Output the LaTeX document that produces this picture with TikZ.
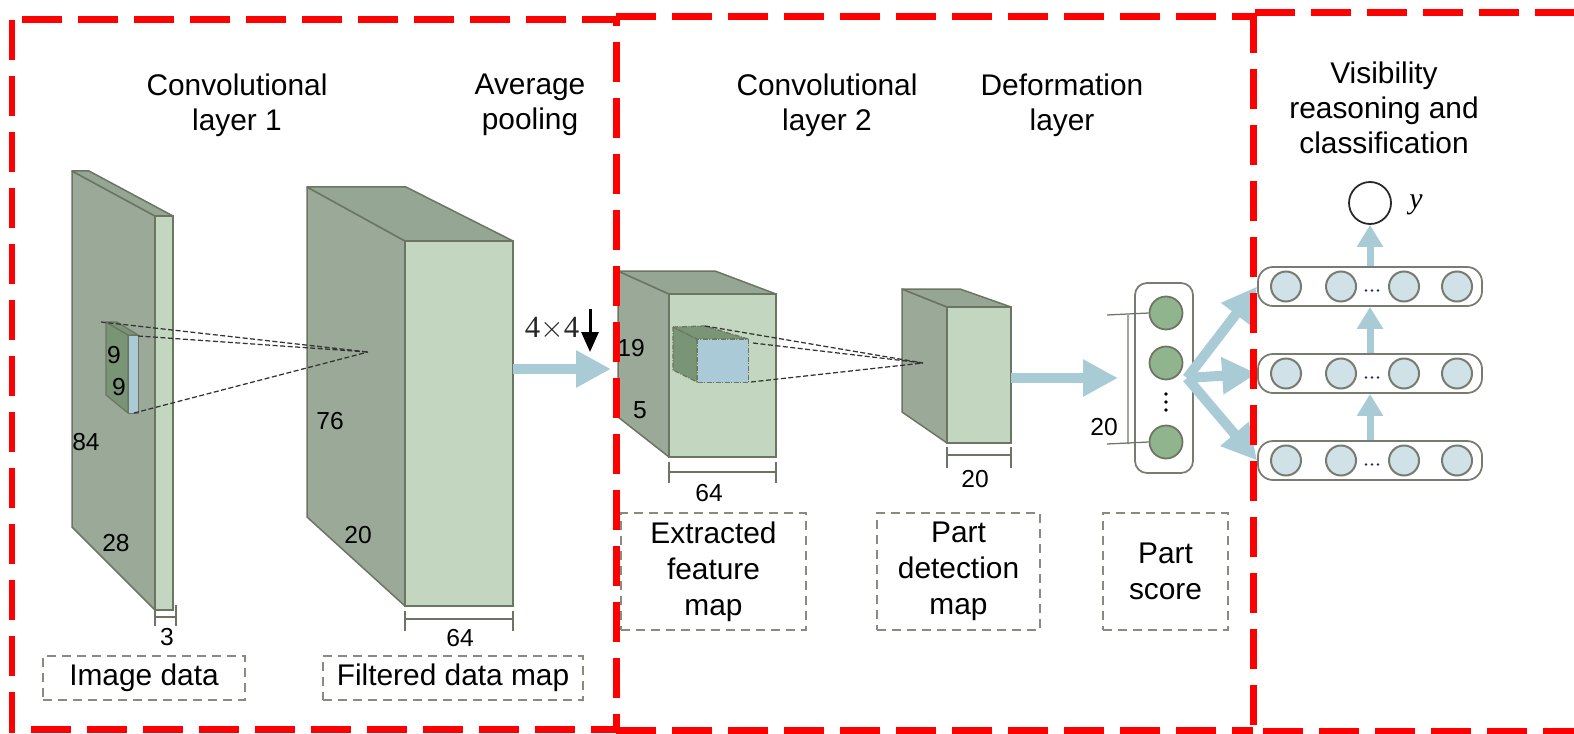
\documentclass[tikz,border=0pt]{standalone}
\usepackage{fontspec}
\setmainfont{Liberation Sans}
\newfontfamily\serifnum{Liberation Serif}
\usetikzlibrary{arrows.meta}

\newcommand\pxu{0.02cm}

\definecolor{sidecol}{RGB}{155,170,152}
\definecolor{topcol}{RGB}{150,166,148}
\definecolor{frontcol}{RGB}{195,215,192}
\definecolor{edgecol}{RGB}{108,116,98}
\definecolor{kernelside}{RGB}{122,148,118}
\definecolor{kernelfront}{RGB}{169,202,214}
\definecolor{flowcol}{RGB}{168,203,214}
\definecolor{scorefill}{RGB}{144,180,142}
\definecolor{unitfill}{RGB}{208,226,232}
\definecolor{unitedge}{RGB}{120,124,112}
\definecolor{framered}{RGB}{255,0,0}
\definecolor{tagcol}{RGB}{138,138,128}
\definecolor{dimcol}{RGB}{110,116,100}
\definecolor{dotblue}{RGB}{40,40,110}

\tikzset{
  sidef/.style={fill=sidecol, draw=edgecol, line width=0.03cm, line join=round},
  topf/.style={fill=topcol, draw=edgecol, line width=0.03cm, line join=round},
  frontf/.style={rectangle, fill=frontcol, draw=edgecol, line width=0.03cm,
    inner sep=0pt, outer sep=0pt, anchor=north west},
  kside/.style={fill=kernelside, draw=edgecol, line width=0.025cm, line join=round},
  kfront/.style={fill=kernelfront, draw=edgecol, line width=0.025cm},
  rfline/.style={draw=black!80, line width=0.025cm, dash pattern=on 0.1cm off 0.05cm},
  dimline/.style={draw=dimcol, line width=0.03cm},
  dimtxt/.style={font=\fontsize{14pt}{16pt}\selectfont, inner sep=0pt},
  title/.style={font=\fontsize{17pt}{20pt}\selectfont, align=center, inner sep=0pt},
  tagbox/.style={rectangle, draw=tagcol, dash pattern=on 0.18cm off 0.12cm,
    line width=0.05cm, font=\fontsize{17pt}{20.5pt}\selectfont, align=center,
    inner sep=0pt},
  frame/.style={draw=framered, line width=0.14cm, dash pattern=on 0.8cm off 0.32cm},
  flow/.style={draw=flowcol, line width=0.2cm, -{Triangle[length=0.7cm,width=0.7cm]}},
  upflow/.style={draw=flowcol, line width=0.14cm, -{Triangle[length=0.44cm,width=0.5cm]}},
  unit/.style={circle, fill=unitfill, draw=unitedge, line width=0.04cm,
    minimum size=30*\pxu, inner sep=0pt},
  scoreunit/.style={circle, fill=scorefill, draw=edgecol, line width=0.035cm,
    minimum size=33*\pxu, inner sep=0pt},
  rowbox/.style={rectangle, rounded corners=0.3cm, draw=unitedge, line width=0.035cm,
    minimum width=224*\pxu, minimum height=39*\pxu, inner sep=0pt},
}

\begin{document}
\begin{tikzpicture}[x=0.02cm, y=-0.02cm]
\useasboundingbox (0,0) rectangle (1574,733);
\clip (0,0) rectangle (1574,733);

% ---------- titles ----------
\node[title] (t1) at (237,105) {Convolutional\\layer 1};
\node[title] (t2) at (530,105) {Average\\pooling};
\node[title] (t3) at (827,105) {Convolutional\\layer 2};
\node[title] (t4) at (1062,105) {Deformation\\layer};
\node[title] (t5) at (1384,108) {Visibility\\reasoning and\\classification};

% ---------- input slab ----------
\draw[sidef] (72,171) -- (155,216) -- (155,610) -- (72,527) -- cycle;
\draw[topf]  (72,171) -- (89,171) -- (173,216) -- (155,216) -- cycle;
\node[frontf, minimum width=18*\pxu, minimum height=394*\pxu] (slab) at (155,216) {};
% 9x9 kernel
\draw[kside] (106,322) -- (128,335) -- (128,413) -- (106,395) -- cycle;
\draw[kside] (106,322) -- (117,322) -- (138,335) -- (128,335) -- cycle;
\node[rectangle, kfront, minimum width=10*\pxu, minimum height=78*\pxu,
  inner sep=0pt, anchor=north west] (k1) at (128,335) {};
\node[dimtxt] (k1a) at (114,355) {9};
\node[dimtxt] (k1b) at (119,387) {9};
\node[dimtxt] (d84) at (86,442) {84};
\node[dimtxt] (d28) at (116,543) {28};
% width bracket
\draw[dimline] (155,605) -- (155,626) (176,605) -- (176,626) (155,617) -- (176,617);
\node[dimtxt] (d3) at (167,637) {3};

% ---------- pooled map ----------
\draw[sidef] (307,187) -- (405,241) -- (405,606) -- (307,517) -- cycle;
\draw[topf]  (307,187) -- (406,187) -- (513,241) -- (405,241) -- cycle;
\node[frontf, minimum width=108*\pxu, minimum height=365*\pxu] (pooled) at (405,241) {};
\coordinate (apex1) at (368,352);
\draw[rfline] (101,322) -- (apex1);
\draw[rfline] (138,336) -- (apex1);
\draw[rfline] (134,413) -- (apex1);
\node[dimtxt] (d76) at (330,421) {76};
\node[dimtxt] (d20a) at (358,535) {20};
\draw[dimline] (405,611) -- (405,631) (513,611) -- (513,631) (405,619) -- (513,619);
\node[dimtxt] (d64a) at (460,638) {64};

% pooling step
\node[font=\serifnum\fontsize{17.5pt}{20pt}\selectfont, inner sep=0pt, text=black!85] (pool) at (552,329) {4$\times$4};
\coordinate (pd1) at (590,309);
\coordinate (pd2) at (590,352);
\draw[line width=0.06cm, -{Triangle[length=0.4cm,width=0.34cm]}] (pd1) -- (pd2);

% ---------- extracted feature map ----------
\draw[sidef] (618,271) -- (669,294) -- (669,457) -- (618,417) -- cycle;
\draw[topf]  (618,271) -- (715,271) -- (776,294) -- (669,294) -- cycle;
\node[frontf, minimum width=107*\pxu, minimum height=163*\pxu] (feat) at (669,294) {};
% kernel on the feature map
\draw[kside, dash pattern=on 0.1cm off 0.03cm on 0.02cm off 0.03cm]
  (673,327) -- (697,339) -- (697,382) -- (673,370) -- cycle;
\draw[kside, dash pattern=on 0.1cm off 0.03cm on 0.02cm off 0.03cm]
  (673,327) -- (705,326) -- (748,339) -- (697,339) -- cycle;
\node[rectangle, kfront, dash pattern=on 0.1cm off 0.03cm on 0.02cm off 0.03cm,
  minimum width=51*\pxu, minimum height=43*\pxu, inner sep=0pt, anchor=north west] (k2) at (697,339) {};
\node[dimtxt] (d19) at (631,348) {19};
\node[dimtxt] (d5) at (640,410) {5};
\draw[dimline] (669,462) -- (669,483) (776,462) -- (776,483) (669,472) -- (776,472);
\node[dimtxt] (d64b) at (709,493) {64};

% ---------- part detection map ----------
\draw[sidef] (902,289) -- (947,307) -- (947,443) -- (902,412) -- cycle;
\draw[topf]  (902,289) -- (960,289) -- (1011,307) -- (947,307) -- cycle;
\node[frontf, minimum width=64*\pxu, minimum height=136*\pxu] (det) at (947,307) {};
\coordinate (apex2) at (923,363);
\draw[rfline] (705,326) -- (apex2);
\draw[rfline] (753,343) -- (apex2);
\draw[rfline] (751,382) -- (apex2);
\draw[dimline] (947,447) -- (947,468) (1011,447) -- (1011,468) (947,455) -- (1011,455);
\node[dimtxt] (d20b) at (975,479) {20};

% ---------- part scores ----------
\node[rectangle, rounded corners=0.24cm, draw=unitedge, line width=0.035cm,
  minimum width=58*\pxu, minimum height=190*\pxu, inner sep=0pt] (score) at (1164,378) {};
\node[scoreunit] (s1) at (1166,313) {};
\node[scoreunit] (s2) at (1166,363) {};
\node[scoreunit] (s3) at (1166,442) {};
\fill (1166,394) circle (1.8) (1166,402) circle (1.8) (1166,410) circle (1.8);
\coordinate (b1) at (1107,315);
\coordinate (b3) at (1107,444);
\draw[dimline, line width=0.025cm] (b1) -- (s1.west) (b3) -- (s3.west) (1128,315) -- (1128,444);
\node[dimtxt] (d20c) at (1104,427) {20};

% ---------- visibility reasoning network ----------
\node[rowbox] (r1) at (1370,286.5) {};
\node[rowbox] (r2) at (1370,373.5) {};
\node[rowbox] (r3) at (1370,460.5) {};
\foreach \r/\yy in {r1/286.5, r2/373.5, r3/460.5} {
  \node[unit] (\r a) at (1286,\yy) {};
  \node[unit] (\r b) at (1341,\yy) {};
  \node[unit] (\r c) at (1404,\yy) {};
  \node[unit] (\r d) at (1457,\yy) {};
  \fill[dotblue] (1366,\yy+4) circle (1.3) (1372,\yy+4) circle (1.3) (1378,\yy+4) circle (1.3);
}
\node[circle, draw=black!85, line width=0.035cm, fill=white, minimum size=42*\pxu,
  inner sep=0pt] (out) at (1370,203) {};
\node[font=\serifnum\itshape\fontsize{17pt}{20pt}\selectfont, inner sep=0pt] (ylab) at (1416,205) {y};

% ---------- flow arrows ----------
\coordinate (h369) at (0,369);
\coordinate (h378) at (0,378);
\coordinate (featin) at (611,369);
\coordinate (scorein) at (1118,378);
\coordinate (fan) at (1187,378);
\draw[flow] (pooled.east |- h369) -- (featin);
\draw[flow] (det.east |- h378) -- (scorein);
\draw[flow, line join=round] (fan) -- (r1.west);
\draw[flow] (fan) -- (r2.west);
\draw[flow] (fan) -- (r3.west);
\draw[upflow] (r3.north) -- (r2.south);
\draw[upflow] (r2.north) -- (r1.south);
\draw[upflow] (r1.north) -- (out.south);

% ---------- captions ----------
\node[tagbox, minimum width=202*\pxu, minimum height=44*\pxu] (cap1) at (144,678) {Image data};
\node[tagbox, minimum width=260*\pxu, minimum height=44*\pxu] (cap2) at (453,678) {Filtered data map};
\node[tagbox, minimum width=185*\pxu, minimum height=117*\pxu] (cap3) at (713.5,571.5) {Extracted\\feature\\map};
\node[tagbox, minimum width=163*\pxu, minimum height=117*\pxu] (cap4) at (958.5,571.5) {Part\\detection\\map};
\node[tagbox, minimum width=125*\pxu, minimum height=117*\pxu] (cap5) at (1165.5,571.5) {Part\\score};

% ---------- stage frames ----------
\draw[frame] (12,20) rectangle (616,729);
\draw[frame] (616,17) -- (1253,17);
\draw[frame] (616,730) -- (1253,730);
\draw[frame] (1253,13) rectangle (1620,731);
\end{tikzpicture}
\end{document}
